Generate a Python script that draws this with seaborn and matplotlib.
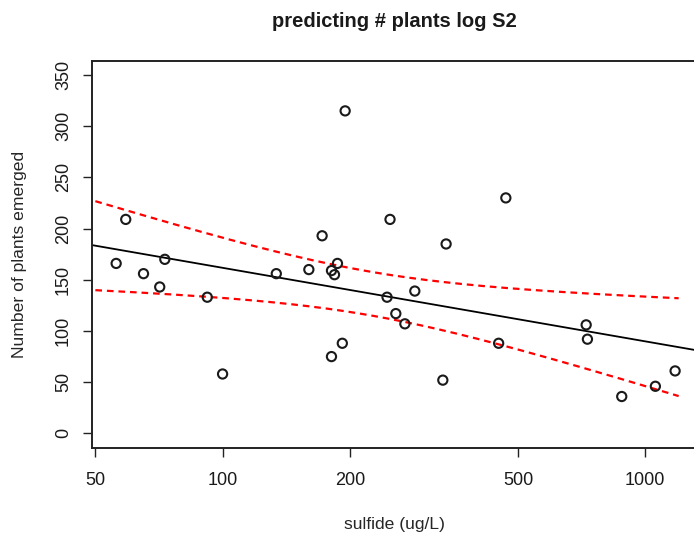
import numpy as np
import pandas as pd
import matplotlib
matplotlib.use("Agg")
import matplotlib.pyplot as plt
from matplotlib.ticker import FixedLocator, NullLocator, FixedFormatter
import seaborn as sns

# sulfide concentration (ug/L) and number of plants emerged per plot
sulfide = [56, 59, 65, 71, 73, 92, 100, 134, 160, 172, 181, 184, 187, 181, 192,
           195, 245, 249, 257, 270, 285, 332, 338, 450, 468, 725, 730, 880, 1057, 1177]
plants = [166, 209, 156, 143, 170, 133, 58, 156, 160, 193, 159, 155, 166, 75, 88,
          315, 133, 209, 117, 107, 139, 52, 185, 88, 230, 106, 92, 36, 46, 61]

x_ticks = [50, 100, 200, 500, 1000]
y_ticks = [0, 50, 100, 150, 200, 250, 300, 350]
band_range = [50, 1200]          # range of sulfide for the confidence band
t_975 = 2.048                    # t quantile, 28 residual df

df = pd.DataFrame({"sulfide": sulfide, "plants": plants})

# linear model: plants ~ log10(sulfide)
lx = np.log10(df["sulfide"].to_numpy(float))
y = df["plants"].to_numpy(float)
n = len(y)
X = np.column_stack([np.ones(n), lx])
beta, *_ = np.linalg.lstsq(X, y, rcond=None)
resid = y - X @ beta
s = np.sqrt(resid @ resid / (n - 2))
xbar = lx.mean()
sxx = ((lx - xbar) ** 2).sum()

grid = np.logspace(np.log10(band_range[0]), np.log10(band_range[1]), 200)
lg = np.log10(grid)
fit_g = beta[0] + beta[1] * lg
se = s * np.sqrt(1 / n + (lg - xbar) ** 2 / sxx)
bands = pd.DataFrame({"sulfide": np.concatenate([grid, grid]),
                      "plants": np.concatenate([fit_g + t_975 * se, fit_g - t_975 * se]),
                      "bound": ["upper"] * len(grid) + ["lower"] * len(grid)})

sns.set_style("white")
plt.rcParams["font.family"] = ["Liberation Sans", "DejaVu Sans"]
plt.rcParams["text.color"] = "#1a1a1a"

fig = plt.figure(figsize=(6.94, 5.34), dpi=100)
ax = fig.add_axes([0.1326, 0.1616, 0.8725, 0.7247])
ax.set_xscale("log")
xlim = (49.1, 1330)
ylim = (-14, 364)

# fitted regression line across the full plotting region
full = np.logspace(np.log10(xlim[0]), np.log10(xlim[1]), 50)
line = pd.DataFrame({"sulfide": full, "plants": beta[0] + beta[1] * np.log10(full)})
sns.lineplot(data=line, x="sulfide", y="plants", color="black", linewidth=1.3, ax=ax)

sns.lineplot(data=bands, x="sulfide", y="plants", units="bound", estimator=None,
             color="red", linewidth=1.6, dashes=False, ax=ax, linestyle=(0, (3, 2.2)))

sns.scatterplot(data=df, x="sulfide", y="plants", marker="o", s=44,
                facecolor="none", edgecolor="#1a1a1a", linewidth=1.5, ax=ax, zorder=3)

ax.set_xlim(*xlim)
ax.set_ylim(*ylim)
ax.xaxis.set_major_locator(FixedLocator(x_ticks))
ax.xaxis.set_major_formatter(FixedFormatter([str(v) for v in x_ticks]))
ax.xaxis.set_minor_locator(NullLocator())
ax.yaxis.set_major_locator(FixedLocator(y_ticks))

for side in ["left", "top", "bottom"]:
    ax.spines[side].set_visible(True)
    ax.spines[side].set_color("#222222")
    ax.spines[side].set_linewidth(1.4)
ax.spines["right"].set_visible(False)

ax.tick_params(axis="both", which="major", direction="out", length=6.5, width=1.0,
               color="#222222", labelsize=13, labelcolor="#1a1a1a",
               bottom=True, left=True, top=False, right=False)
ax.tick_params(axis="x", pad=11)
ax.tick_params(axis="y", pad=8)
for lab in ax.get_yticklabels():
    lab.set_rotation(90)
    lab.set_va("center")

ax.set_xlabel("sulfide (ug/L)", fontsize=12.6, labelpad=20)
ax.set_ylabel("Number of plants emerged", fontsize=12.6, labelpad=20)
ax.set_title("predicting # plants log S2", fontsize=14.5, fontweight="bold", pad=24)
ax.grid(False)

fig.savefig("out.png", dpi=100)
